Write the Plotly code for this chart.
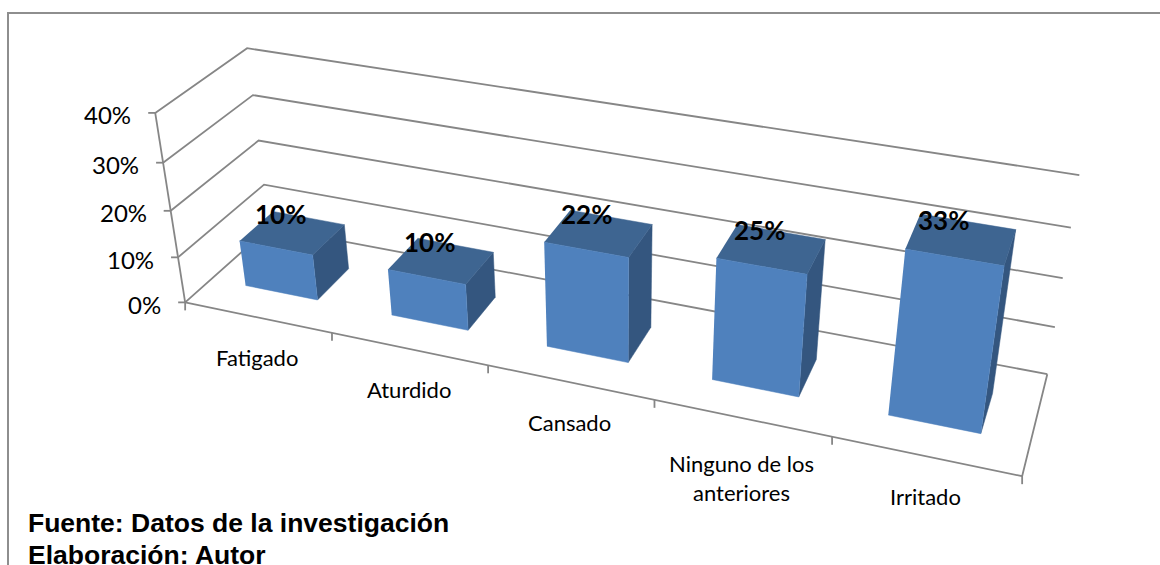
import numpy as np
import plotly.graph_objects as go

# Data
categories = ["Fatigado", "Aturdido", "Cansado", "Ninguno de los<br>anteriores", "Irritado"]
values = [10, 10, 22, 25, 33]
value_ticks = [0, 10, 20, 30, 40]
notes = ["Fuente: Datos de la investigación", "Elaboración: Autor"]

# The original is a 3-D column chart with a weak perspective. Plotly's 3-D scene has a fixed
# 45-degree field of view and cannot reproduce it, so the 3-D box is projected onto a 2-D axis
# by a camera matrix calibrated on the corners of the chart frame: (category, depth, percent) -> (px, py).
CALIBRATION = [
    ((0, 0, 0), (185, 302)), ((0, 0, 10), (178, 257)), ((0, 0, 20), (171, 211)),
    ((0, 0, 30), (163, 163)), ((0, 0, 40), (155, 113)),
    ((0, 1, 0), (269, 227)), ((0, 1, 10), (264, 185)), ((0, 1, 20), (259, 141)),
    ((0, 1, 30), (253, 95)), ((0, 1, 40), (247, 48)),
    ((5, 1, 0), (1047, 374)), ((5, 1, 10), (1055, 328)), ((5, 1, 20), (1063, 278)),
    ((5, 1, 30), (1071, 227)), ((5, 1, 40), (1079, 175)),
    ((5, 0, 0), (1022, 476)), ((1, 0, 0), (332, 333)), ((2, 0, 0), (488, 365)),
    ((3, 0, 0), (655, 400)), ((4, 0, 0), (832, 437)),
]


def fit_camera(pairs):
    rows = []
    for (u, v, z), (px, py) in pairs:
        w = (u, v, z / 10.0, 1.0)
        rows.append([*w, 0, 0, 0, 0, *[-px / 1000.0 * c for c in w]])
        rows.append([0, 0, 0, 0, *w, *[-py / 1000.0 * c for c in w]])
    _, _, vt = np.linalg.svd(np.array(rows, dtype=float))
    return vt[-1].reshape(3, 4)


CAMERA = fit_camera(CALIBRATION)


def project(u, v, z):
    a = CAMERA @ np.array([u, v, z / 10.0, 1.0])
    return 1000.0 * a[0] / a[2], 1000.0 * a[1] / a[2]


BAR_U0, BAR_U1 = 0.24, 0.74
BAR_V0, BAR_V1 = 0.30, 0.70
GRID = "#868686"
GRID_W = 1.8
FRONT, TOP, SIDE = "#4F81BD", "#3E6591", "#34567F"
FONT = "Lato"
N = len(categories)
CATEGORY_LABEL_SHIFT = [-25, -25, -25, -30, -25]
DATA_LABEL_SHIFT = [-12, -12, -12, -12, -18]

fig = go.Figure()


def line(points, color=GRID, width=GRID_W):
    xy = [project(*p) for p in points]
    fig.add_trace(go.Scatter(x=[a[0] for a in xy], y=[a[1] for a in xy], mode="lines",
                             line=dict(color=color, width=width), hoverinfo="skip", showlegend=False))


def tick_down(u, length=8):
    x, y = project(u, 0, 0)
    fig.add_trace(go.Scatter(x=[x, x], y=[y, y + length], mode="lines",
                             line=dict(color=GRID, width=GRID_W), hoverinfo="skip", showlegend=False))


def face(points, color, name, value):
    xy = [project(*p) for p in points]
    fig.add_trace(go.Scatter(x=[a[0] for a in xy], y=[a[1] for a in xy], mode="lines", fill="toself",
                             fillcolor=color, line=dict(color=color, width=0.5), name=name,
                             text=f"{value}%", hoverinfo="name+text", showlegend=False))


# Frame
for t in value_ticks:
    line([(0, 0, t), (0, 1, t), (N, 1, t)])
    x, y = project(0, 0, t)
    fig.add_trace(go.Scatter(x=[x, x - 7], y=[y, y], mode="lines",
                             line=dict(color=GRID, width=GRID_W), hoverinfo="skip", showlegend=False))
    fig.add_annotation(x=x, y=y, xref="x", yref="y", text=f"{t}%", showarrow=False, xanchor="right",
                       xshift=-22, yshift=-2, font=dict(family=FONT, size=24, color="#000000"))
line([(0, 0, 0), (0, 0, value_ticks[-1])])
line([(0, 0, 0), (N, 0, 0), (N, 1, 0)])
for i in range(N + 1):
    tick_down(i)

# Columns
for i, (name, val) in enumerate(zip(categories, values)):
    u0, u1 = i + BAR_U0, i + BAR_U1
    label = name.replace("<br>", " ")
    face([(u1, BAR_V0, 0), (u1, BAR_V1, 0), (u1, BAR_V1, val), (u1, BAR_V0, val)], SIDE, label, val)
    face([(u0, BAR_V0, val), (u1, BAR_V0, val), (u1, BAR_V1, val), (u0, BAR_V1, val)], TOP, label, val)
    face([(u0, BAR_V0, 0), (u1, BAR_V0, 0), (u1, BAR_V0, val), (u0, BAR_V0, val)], FRONT, label, val)

# Data labels and category labels
for i, (name, val) in enumerate(zip(categories, values)):
    x, y = project(i + (BAR_U0 + BAR_U1) / 2, (BAR_V0 + BAR_V1) / 2, val)
    fig.add_annotation(x=x, y=y, xref="x", yref="y", text=f"<b>{val}%</b>", showarrow=False,
                       xshift=DATA_LABEL_SHIFT[i], yshift=19, font=dict(family=FONT, size=26, color="#000000"))
    x, y = project(i + 0.5, 0, 0)
    fig.add_annotation(x=x, y=y, xref="x", yref="y", text=name, showarrow=False, yanchor="top",
                       yshift=CATEGORY_LABEL_SHIFT[i], font=dict(family=FONT, size=22, color="#000000"))

# Outer border (top and left only in the crop) and source notes
fig.add_trace(go.Scatter(x=[8, 8, 1160], y=[565, 13, 13], mode="lines",
                         line=dict(color="#8E8E8E", width=2), hoverinfo="skip", showlegend=False))
for text, y in zip(notes, [523, 555]):
    fig.add_annotation(x=26, y=y, xref="x", yref="y", text=f"<b>{text}</b>", showarrow=False, xanchor="left",
                       font=dict(family="Liberation Sans", size=26.5, color="#000000"))

fig.update_layout(width=1160, height=565, margin=dict(l=0, r=0, t=0, b=0), autosize=False,
                  paper_bgcolor="#FFFFFF", plot_bgcolor="#FFFFFF", showlegend=False,
                  xaxis=dict(range=[0, 1160], visible=False, fixedrange=True),
                  yaxis=dict(range=[565, 0], visible=False, fixedrange=True))
fig.write_html("out.html", config=dict(displayModeBar=False),
               post_script="document.body.style.margin='0';document.body.style.overflow='hidden';")
